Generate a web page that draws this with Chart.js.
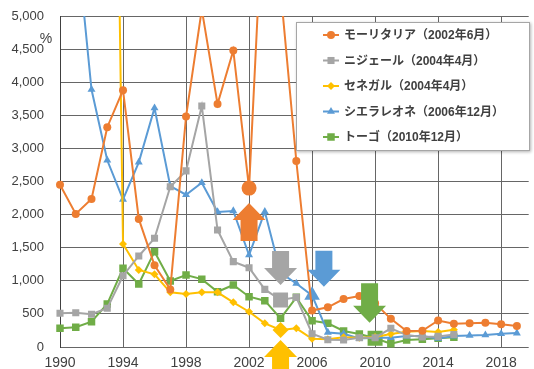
<!DOCTYPE html>
<html>
<head>
<meta charset="utf-8">
<script src="https://cdn.jsdelivr.net/npm/chart.js@4.4.0/dist/chart.umd.min.js"></script>
<style>
  html, body { margin: 0; padding: 0; background: #ffffff; overflow: hidden; }
  #wrap { width: 534px; height: 369px; }
</style>
</head>
<body>
<div id="wrap"><canvas id="chart" width="534" height="369"></canvas></div>
<script>
// ---- data ----
const years = [1990, 1991, 1992, 1993, 1994, 1995, 1996, 1997, 1998, 1999,
               2000, 2001, 2002, 2003, 2004, 2005, 2006, 2007, 2008, 2009,
               2010, 2011, 2012, 2013, 2014, 2015, 2016, 2017, 2018, 2019];

const mauritania = [2450, 2010, 2235, 3320, 3880, 1935, 1235, 870, 3480, 5100,
                    3670, 4480, 2400, 7250, 5400, 2810, 550, 600, 725, 770,
                    660, 425, 240, 245, 400, 350, 357, 367, 343, 317];

const niger = [510, 518, 494, 585, 1077, 1375, 1642, 2420, 2660, 3640,
               1767, 1290, 1198, 870, 710, 750, 200, 110, 106, 140,
               140, 282, 180, 150, 160, 190, null, null, null, null];

const senegal = [null, null, null, 18000, 1556, 1163, 1098, 826, 800, 826,
                 826, 675, 533, 358, 257, 282, 125, 116, 146, 140,
                 150, 196, 231, 242, 225, 262, null, null, null, null];

const sierraLeone = [null, 6300, 3890, 2820, 2230, 2790, 3610, 2430, 2300, 2480,
                     2040, 2055, 1390, 2045, 1120, 960, 780, 220, 200, 130,
                     140, 140, 165, 165, 130, 165, 175, 181, 200, 210];

const togo = [282, 298, 383, 650, 1188, 952, 1440, 997, 1088, 1025,
              835, 937, 760, 700, 433, 750, 397, 358, 242, 196,
              131, 50, 106, 116, 131, 146, null, null, null, null];

const seriesLabels = ['モーリタリア（2002年6月）', 'ニジェール（2004年4月）',
                      'セネガル（2004年4月）', 'シエラレオネ（2006年12月）',
                      'トーゴ（2010年12月）'];
const eventYears = [2002, 2004, 2004, 2006, 2010];

const xTickValues = [1990, 1994, 1998, 2002, 2006, 2010, 2014, 2018];
const xTickLabels = ['1990', '1994', '1998', '2002', '2006', '2010', '2014', '2018'];
const yTickValues = [0, 500, 1000, 1500, 2000, 2500, 3000, 3500, 4000, 4500, 5000];
const yTickLabels = ['0', '500', '1,000', '1,500', '2,000', '2,500', '3,000', '3,500', '4,000', '4,500', '5,000'];
const yUnit = '%';

// event arrows: series, year, tail value, tip value
const arrowSeries = [0, 1, 2, 3, 4];
const arrowYears = [2002, 2004, 2004, 2006.75, 2009.65];
const arrowTail = [1600, 1450, -450, 1455, 962];
const arrowTip = [2175, 937, 106, 911, 367];

// ---- styling ----
const colors = ['#ED7D31', '#A5A5A5', '#FFC000', '#5B9BD5', '#70AD47'];
const shapes = ['circle', 'rect', 'rectRot', 'triangle', 'rect'];
const smallR = [4, 5, 4, 4.6, 5.3];
const bigR = [7.5, 10.6, 8, 9, 10.6];
const seriesValues = [mauritania, niger, senegal, sierraLeone, togo];
const textColor = '#404040';
const gridColor = '#666666';
const latin = '"Liberation Sans", Arial, sans-serif';
const cjk = '"Liberation Sans", "Noto Sans CJK JP", sans-serif';

const datasets = seriesValues.map((vals, s) => ({
  label: seriesLabels[s],
  data: years.map((yr, i) => ({ x: yr, y: vals[i] })),
  borderColor: colors[s],
  backgroundColor: colors[s],
  borderWidth: 2,
  pointStyle: shapes[s],
  pointRadius: ctx => (years[ctx.dataIndex] === eventYears[s] ? bigR[s] : smallR[s]),
  pointBorderWidth: 0,
  pointBackgroundColor: colors[s],
  pointBorderColor: colors[s],
  tension: 0,
  spanGaps: false,
  clip: { left: 12, right: 12, top: 0, bottom: 12 }
}));

// block arrows marking each event
const arrowPlugin = {
  id: 'eventArrows',
  afterDatasetsDraw(chart) {
    const { ctx, scales: { x, y } } = chart;
    const headLen = 17, headW = 33, shaftW = 17;
    ctx.save();
    arrowSeries.forEach((s, k) => {
      const cx = x.getPixelForValue(arrowYears[k]);
      const tail = y.getPixelForValue(arrowTail[k]);
      const tip = y.getPixelForValue(arrowTip[k]);
      const dir = tip < tail ? -1 : 1;
      const base = tip - dir * headLen;
      ctx.beginPath();
      ctx.moveTo(cx, tip);
      ctx.lineTo(cx + headW / 2, base);
      ctx.lineTo(cx + shaftW / 2, base);
      ctx.lineTo(cx + shaftW / 2, tail);
      ctx.lineTo(cx - shaftW / 2, tail);
      ctx.lineTo(cx - shaftW / 2, base);
      ctx.lineTo(cx - headW / 2, base);
      ctx.closePath();
      ctx.fillStyle = colors[s];
      ctx.fill();
    });
    ctx.restore();
  }
};

// boxed legend inside the plot, plus the unit label
const legendPlugin = {
  id: 'boxLegend',
  afterDraw(chart) {
    const { ctx } = chart;
    const bx = 296, by = 22, bw = 234, bh = 129;
    ctx.save();
    ctx.shadowColor = 'rgba(0,0,0,0.3)';
    ctx.shadowBlur = 3;
    ctx.shadowOffsetX = 1;
    ctx.shadowOffsetY = 1;
    ctx.fillStyle = '#ffffff';
    ctx.fillRect(bx, by, bw, bh);
    ctx.restore();
    ctx.save();
    ctx.strokeStyle = '#a6a6a6';
    ctx.lineWidth = 1;
    ctx.strokeRect(bx + 0.5, by + 0.5, bw - 1, bh - 1);
    chart.data.datasets.forEach((ds, s) => {
      const cy = by + 13 + s * 25.5;
      ctx.strokeStyle = colors[s];
      ctx.lineWidth = 2;
      ctx.beginPath();
      ctx.moveTo(323, cy);
      ctx.lineTo(339, cy);
      ctx.stroke();
      ctx.fillStyle = colors[s];
      ctx.beginPath();
      Chart.helpers.drawPoint(ctx, { pointStyle: shapes[s], radius: smallR[s], borderWidth: 0 }, 331, cy);
      ctx.fillStyle = textColor;
      ctx.font = 'bold 12px ' + cjk;
      ctx.textBaseline = 'middle';
      ctx.textAlign = 'left';
      ctx.fillText(ds.label, 344, cy + 1);
    });
    ctx.fillStyle = textColor;
    ctx.font = '14px ' + latin;
    ctx.textAlign = 'center';
    ctx.textBaseline = 'middle';
    ctx.fillText(yUnit, 46, 39);
    ctx.restore();
  }
};

new Chart(document.getElementById('chart'), {
  type: 'line',
  data: { datasets },
  plugins: [arrowPlugin, legendPlugin],
  options: {
    responsive: false,
    animation: false,
    devicePixelRatio: 1,
    layout: { padding: { top: 16, right: 0, bottom: 0, left: 0 } },
    plugins: { legend: { display: false }, tooltip: { enabled: false } },
    scales: {
      x: {
        type: 'linear',
        min: 1990,
        max: 2019.75,
        afterBuildTicks: sc => { sc.ticks = xTickValues.map(v => ({ value: v })); },
        afterFit: sc => { sc.height = 22; },
        ticks: {
          autoSkip: false,
          maxRotation: 0,
          padding: 0,
          color: textColor,
          font: { family: latin, size: 14 },
          callback: (v, i) => xTickLabels[i]
        },
        grid: { color: gridColor, lineWidth: 1, drawTicks: true, tickLength: 8, tickColor: 'rgba(0,0,0,0)' },
        border: { display: false }
      },
      y: {
        min: 0,
        max: 5000,
        afterBuildTicks: sc => { sc.ticks = yTickValues.map(v => ({ value: v })); },
        afterFit: sc => { sc.width = 60; },
        ticks: {
          padding: 0,
          color: textColor,
          font: { family: latin, size: 13 },
          callback: (v, i) => yTickLabels[i]
        },
        grid: { color: gridColor, lineWidth: 1, drawTicks: true, tickLength: 16, tickColor: 'rgba(0,0,0,0)' },
        border: { display: true, color: '#404040', width: 1 }
      }
    }
  }
});
</script>
</body>
</html>
